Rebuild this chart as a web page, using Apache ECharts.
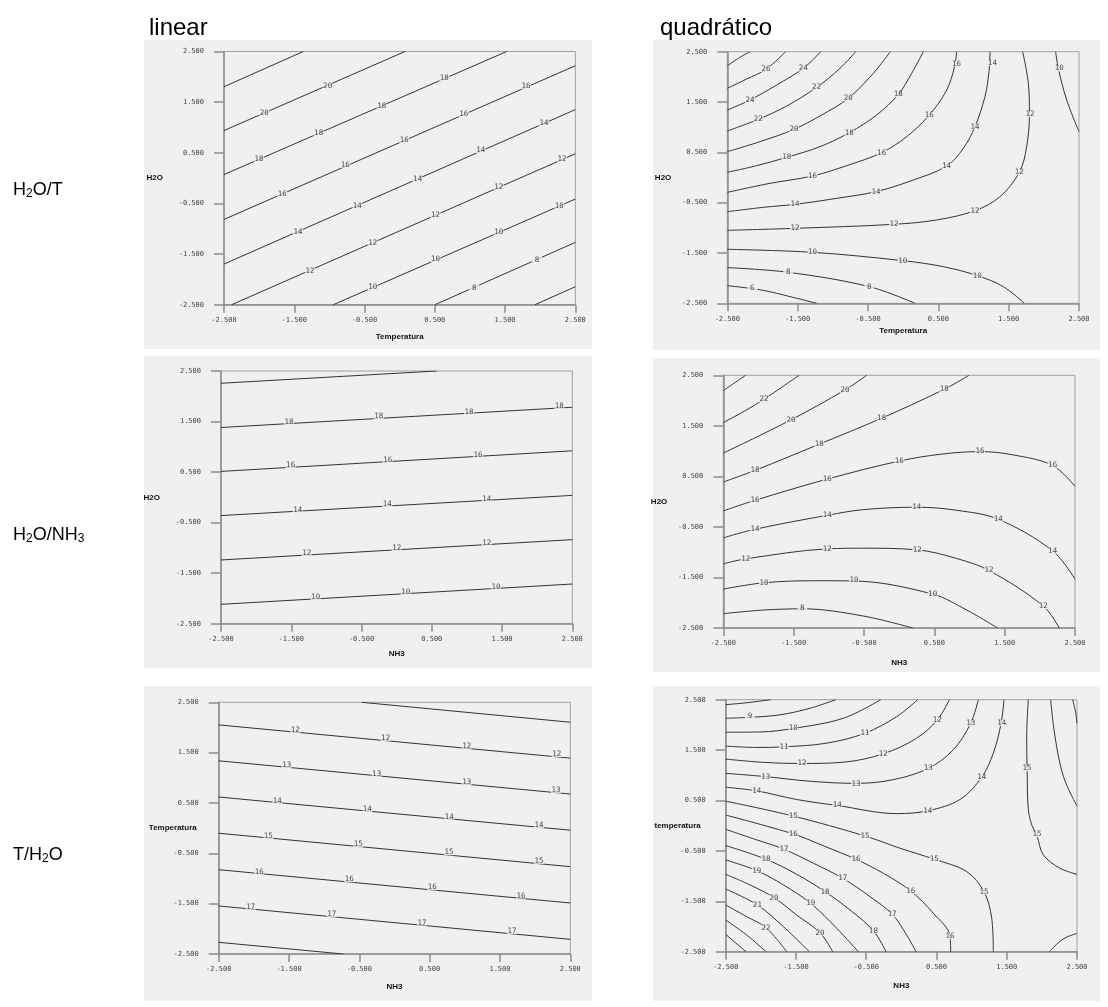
<!DOCTYPE html>
<html>
<head>
<meta charset="utf-8">
<script src="https://cdn.jsdelivr.net/npm/echarts@6/dist/echarts.min.js"></script>
<style>
  html, body { margin: 0; padding: 0; background: #fff; }
  #main { width: 1108px; height: 1007px; }
</style>
</head>
<body>
<div id="main"></div>
<script>
// axis ticks shared by all six panels
const ticks = [-2.5, -1.5, -0.5, 0.5, 1.5, 2.5];

// contour lines: [level, [[x, y], ...]]
const tlLines = [
  [22, [[-2.5, 1.805], [-1.371, 2.5]]],
  [20, [[-2.5, 0.939], [0.076, 2.5]]],
  [18, [[-2.5, 0.07], [1.523, 2.5]]],
  [16, [[-2.5, -0.816], [2.5, 2.218]]],
  [14, [[-2.5, -1.697], [2.5, 1.352]]],
  [12, [[-2.391, -2.5], [2.5, 0.48]]],
  [10, [[-0.944, -2.5], [2.5, -0.414]]],
  [8, [[0.503, -2.5], [2.5, -1.27]]],
  [6, [[1.926, -2.5], [2.5, -2.145]]]
];
const tlLabels = [
  [-1.025, 1.825, '20'], [-1.926, 1.287, '20'],
  [0.636, 1.969, '18'], [-0.256, 1.431, '18'], [-1.153, 0.887, '18'], [-2.002, 0.375, '18'],
  [1.798, 1.811, '16'], [0.911, 1.267, '16'], [0.066, 0.756, '16'], [-0.773, 0.257, '16'], [-1.67, -0.316, '16'],
  [2.054, 1.084, '14'], [1.153, 0.546, '14'], [0.256, -0.026, '14'], [-0.602, -0.546, '14'], [-1.447, -1.059, '14'],
  [2.31, 0.382, '12'], [1.409, -0.184, '12'], [0.512, -0.737, '12'], [-0.384, -1.276, '12'], [-1.276, -1.829, '12'],
  [2.272, -0.546, '10'], [1.409, -1.059, '10'], [0.512, -1.605, '10'], [-0.384, -2.151, '10'],
  [1.955, -1.618, '8'], [1.063, -2.164, '8']
];

const trLines = [
  [28, [[-2.5, 2.215], [-2.344, 2.368], [-2.178, 2.5]]],
  [26, [[-2.5, 1.772], [-2.225, 1.957], [-1.95, 2.149], [-1.671, 2.5]]],
  [24, [[-2.5, 1.341], [-2.178, 1.54], [-1.799, 1.838], [-1.419, 2.169], [-1.173, 2.5]]],
  [22, [[-2.5, 0.924], [-2.059, 1.156], [-1.656, 1.421], [-1.23, 1.791], [-0.898, 2.169], [-0.675, 2.5]]],
  [20, [[-2.5, 0.513], [-2.036, 0.712], [-1.552, 0.957], [-1.159, 1.242], [-0.78, 1.573], [-0.424, 2.07], [-0.183, 2.5]]],
  [18, [[-2.5, 0.103], [-2.083, 0.235], [-1.656, 0.401], [-1.182, 0.613], [-0.765, 0.891], [-0.377, 1.242], [-0.069, 1.652], [0.121, 2.07], [0.287, 2.5]]],
  [16, [[-2.5, -0.295], [-1.893, -0.116], [-1.287, 0.03], [-0.803, 0.235], [-0.306, 0.493], [0.05, 0.811], [0.372, 1.242], [0.619, 1.738], [0.73, 2.2], [0.761, 2.5]]],
  [14, [[-2.5, -0.679], [-1.988, -0.593], [-1.538, -0.533], [-0.945, -0.414], [-0.386, -0.281], [0.145, -0.05], [0.618, 0.228], [0.855, 0.579], [1.021, 1.01], [1.163, 1.606], [1.22, 2.1], [1.235, 2.5]]],
  [12, [[-2.5, -1.05], [-1.538, -1.01], [-0.13, -0.93], [0.476, -0.844], [1.021, -0.659], [1.377, -0.381], [1.652, 0.105], [1.756, 0.613], [1.795, 1.262], [1.78, 1.871], [1.699, 2.5]]],
  [10, [[2.168, 2.5], [2.206, 2.169], [2.325, 1.54], [2.5, 0.911]]],
  [10, [[-2.5, -1.427], [-1.287, -1.487], [-0.007, -1.652], [0.571, -1.772], [1.055, -1.95], [1.424, -2.169], [1.723, -2.5]]],
  [8, [[-2.5, -1.791], [-1.633, -1.884], [-0.481, -2.169], [0.168, -2.5]]],
  [6, [[-2.5, -2.149], [-2.0, -2.24], [-1.6, -2.37], [-1.23, -2.5]]]
];
const trLabels = [
  [-1.95, 2.149, '26'],
  [-1.419, 2.169, '24'], [-2.178, 1.54, '24'],
  [-1.23, 1.791, '22'], [-2.059, 1.156, '22'],
  [-0.78, 1.573, '20'], [-1.552, 0.957, '20'],
  [-0.069, 1.652, '18'], [-0.765, 0.891, '18'], [-1.656, 0.401, '18'],
  [0.76, 2.26, '16'], [0.372, 1.242, '16'], [-0.306, 0.493, '16'], [-1.287, 0.03, '16'],
  [1.27, 2.28, '14'], [1.021, 1.01, '14'], [0.618, 0.228, '14'], [-0.386, -0.281, '14'], [-1.538, -0.533, '14'],
  [1.803, 1.262, '12'], [1.652, 0.105, '12'], [1.021, -0.659, '12'], [-0.13, -0.93, '12'], [-1.538, -1.01, '12'],
  [2.22, 2.169, '10'], [-1.287, -1.487, '10'], [-0.007, -1.652, '10'], [1.055, -1.95, '10'],
  [-1.633, -1.884, '8'], [-0.481, -2.169, '8'],
  [-2.145, -2.19, '6']
];

const mlLines = [
  [20, [[-2.5, 2.257], [0.569, 2.5]]],
  [18, [[-2.5, 1.382], [2.5, 1.783]]],
  [16, [[-2.5, 0.513], [2.5, 0.921]]],
  [14, [[-2.5, -0.361], [2.5, 0.039]]],
  [12, [[-2.5, -1.239], [2.5, -0.837]]],
  [10, [[-2.5, -2.117], [2.5, -1.715]]]
];
const mlLabels = [
  [-1.532, 1.493, '18'], [-0.256, 1.605, '18'], [1.029, 1.697, '18'], [2.315, 1.809, '18'],
  [-1.509, 0.632, '16'], [-0.128, 0.743, '16'], [1.158, 0.842, '16'],
  [-1.409, -0.243, '14'], [-0.133, -0.137, '14'], [1.281, -0.026, '14'],
  [-1.281, -1.107, '12'], [0.0, -1.008, '12'], [1.281, -0.909, '12'],
  [-1.153, -1.979, '10'], [0.128, -1.873, '10'], [1.414, -1.767, '10']
];

const mrLines = [
  [24, [[-2.5, 2.197], [-2.35, 2.34], [-2.182, 2.5]]],
  [22, [[-2.5, 1.566], [-2.2, 1.79], [-1.922, 2.026], [-1.424, 2.5]]],
  [20, [[-2.5, 0.961], [-1.538, 1.618], [-0.77, 2.211], [-0.462, 2.5]]],
  [18, [[-2.5, 0.388], [-2.05, 0.618], [-1.135, 1.138], [-0.249, 1.651], [0.642, 2.224], [0.993, 2.5]]],
  [16, [[-2.5, -0.184], [-2.05, 0.026], [-1.021, 0.447], [0.002, 0.803], [0.6, 0.94], [1.149, 0.99], [1.6, 0.93], [2.182, 0.717], [2.5, 0.303]]],
  [14, [[-2.5, -0.717], [-2.05, -0.546], [-1.021, -0.27], [-0.509, -0.158], [0.249, -0.11], [0.818, -0.171], [1.41, -0.349], [2.182, -0.974], [2.5, -1.533]]],
  [12, [[-2.5, -1.23], [-2.182, -1.132], [-1.021, -0.934], [-0.509, -0.921], [0.258, -0.954], [0.818, -1.125], [1.277, -1.362], [2.05, -2.066], [2.277, -2.5]]],
  [10, [[-2.5, -1.73], [-1.922, -1.605], [-1.22, -1.565], [-0.642, -1.57], [0.476, -1.829], [0.96, -2.145], [1.4, -2.5]]],
  [8, [[-2.5, -2.217], [-1.931, -2.145], [-1.377, -2.12], [-0.509, -2.263], [0.192, -2.5]]]
];
const mrLabels = [
  [-1.922, 2.026, '22'],
  [-0.77, 2.211, '20'], [-1.538, 1.618, '20'],
  [0.642, 2.224, '18'], [-0.249, 1.651, '18'], [-1.135, 1.138, '18'], [-2.05, 0.618, '18'],
  [1.149, 1.0, '16'], [2.182, 0.717, '16'], [0.002, 0.803, '16'], [-1.021, 0.447, '16'], [-2.05, 0.026, '16'],
  [-2.05, -0.546, '14'], [-1.021, -0.27, '14'], [0.249, -0.105, '14'], [1.41, -0.349, '14'], [2.182, -0.974, '14'],
  [-2.182, -1.132, '12'], [-1.021, -0.934, '12'], [0.258, -0.954, '12'], [1.277, -1.362, '12'], [2.05, -2.066, '12'],
  [-1.922, -1.605, '10'], [-0.642, -1.559, '10'], [0.476, -1.829, '10'],
  [-1.377, -2.112, '8']
];

const blLines = [
  [11, [[-0.467, 2.5], [2.5, 2.104]]],
  [12, [[-2.5, 2.051], [2.5, 1.391]]],
  [13, [[-2.5, 1.338], [2.5, 0.678]]],
  [14, [[-2.5, 0.619], [2.5, -0.041]]],
  [15, [[-2.5, -0.101], [2.5, -0.765]]],
  [16, [[-2.5, -0.825], [2.5, -1.487]]],
  [17, [[-2.5, -1.546], [2.5, -2.209]]],
  [18, [[-2.5, -2.268], [-0.727, -2.5]]]
];
const blLabels = [
  [-1.41, 1.952, '12'], [-0.126, 1.787, '12'], [1.026, 1.635, '12'], [2.306, 1.47, '12'],
  [-1.533, 1.246, '13'], [-0.254, 1.081, '13'], [1.026, 0.909, '13'], [2.296, 0.751, '13'],
  [-1.666, 0.546, '14'], [-0.386, 0.381, '14'], [0.78, 0.229, '14'], [2.054, 0.058, '14'],
  [-1.794, -0.16, '15'], [-0.514, -0.321, '15'], [0.775, -0.48, '15'], [2.054, -0.652, '15'],
  [-1.922, -0.864, '16'], [-0.642, -1.017, '16'], [0.538, -1.175, '16'], [1.799, -1.341, '16'],
  [-2.045, -1.56, '17'], [-0.893, -1.712, '17'], [0.391, -1.877, '17'], [1.671, -2.043, '17']
];

const brLines = [
  [8, [[-2.5, 2.401], [-2.2, 2.44], [-1.86, 2.5]]],
  [9, [[-2.5, 2.132], [-2.154, 2.15], [-1.727, 2.2], [-1.3, 2.33], [-0.935, 2.5]]],
  [10, [[-2.5, 1.855], [-2.011, 1.86], [-1.537, 1.93], [-0.825, 2.132], [-0.294, 2.5]]],
  [11, [[-2.5, 1.579], [-2.059, 1.553], [-1.67, 1.565], [-1.063, 1.638], [-0.517, 1.836], [-0.066, 2.164], [0.232, 2.5]]],
  [12, [[-2.5, 1.322], [-1.964, 1.257], [-1.414, 1.235], [-0.825, 1.26], [-0.256, 1.428], [0.218, 1.737], [0.512, 2.099], [0.683, 2.5]]],
  [13, [[-2.5, 1.039], [-1.931, 0.974], [-1.3, 0.882], [-0.645, 0.84], [-0.114, 0.914], [0.384, 1.138], [0.74, 1.507], [0.987, 2.033], [1.096, 2.5]]],
  [14, [[-2.5, 0.763], [-2.059, 0.691], [-1.49, 0.52], [-0.911, 0.401], [-0.066, 0.24], [0.375, 0.296], [0.835, 0.52], [1.143, 0.961], [1.309, 1.441], [1.42, 2.033], [1.461, 2.5]]],
  [15, [[1.807, 2.5], [1.784, 1.77], [1.79, 1.138], [1.807, 0.322], [1.86, 0.0], [1.93, -0.2], [2.021, -0.579], [2.258, -0.844], [2.5, -0.964]]],
  [16, [[2.125, 2.5], [2.187, 1.77], [2.306, 0.98], [2.5, 0.388]]],
  [17, [[2.438, 2.5], [2.48, 2.25], [2.5, 2.033]]],
  [16, [[2.106, -2.5], [2.3, -2.25], [2.5, -2.136]]],
  [15, [[-2.5, 0.487], [-1.537, 0.191], [-0.517, -0.204], [-0.019, -0.447], [0.47, -0.666], [0.93, -0.911], [1.176, -1.308], [1.286, -1.838], [1.309, -2.5]]],
  [16, [[-2.5, 0.211], [-1.537, -0.164], [-1.09, -0.41], [-0.645, -0.666], [-0.256, -0.944], [0.133, -1.295], [0.455, -1.738], [0.693, -2.189], [0.702, -2.5]]],
  [17, [[-2.5, -0.072], [-2.059, -0.281], [-1.67, -0.467], [-1.252, -0.745], [-0.835, -1.043], [-0.446, -1.407], [-0.128, -1.758], [0.076, -2.169], [0.209, -2.5]]],
  [18, [[-2.5, -0.394], [-1.926, -0.666], [-1.49, -0.964], [-1.086, -1.308], [-0.731, -1.672], [-0.398, -2.083], [-0.218, -2.5]]],
  [19, [[-2.5, -0.679], [-2.059, -0.891], [-1.679, -1.175], [-1.29, -1.54], [-0.92, -2.036], [-0.612, -2.5]]],
  [20, [[-2.5, -0.964], [-2.154, -1.175], [-1.812, -1.427], [-1.49, -1.772], [-1.158, -2.123], [-0.977, -2.5]]],
  [21, [[-2.5, -1.255], [-2.049, -1.573], [-1.679, -2.003], [-1.309, -2.5]]],
  [22, [[-2.5, -1.573], [-2.201, -1.805], [-1.926, -2.023], [-1.632, -2.5]]],
  [23, [[-2.5, -1.871], [-2.201, -2.169], [-1.926, -2.5]]],
  [24, [[-2.5, -2.156], [-2.211, -2.5]]]
];
const brLabels = [
  [-2.154, 2.17, '9'],
  [-1.537, 1.935, '10'],
  [-1.67, 1.57, '11'], [-0.517, 1.836, '11'],
  [-1.414, 1.236, '12'], [-0.256, 1.428, '12'], [0.512, 2.099, '12'],
  [-1.931, 0.974, '13'], [-0.645, 0.835, '13'], [0.384, 1.138, '13'], [0.987, 2.033, '13'],
  [-2.059, 0.691, '14'], [-0.911, 0.401, '14'], [0.375, 0.296, '14'], [1.143, 0.961, '14'], [1.43, 2.033, '14'],
  [1.79, 1.138, '15'], [1.93, -0.17, '15'],
  [-1.537, 0.191, '15'], [-0.517, -0.204, '15'], [0.47, -0.666, '15'], [1.176, -1.308, '15'],
  [-1.537, -0.164, '16'], [-0.645, -0.666, '16'], [0.133, -1.295, '16'], [0.693, -2.189, '16'],
  [-1.67, -0.467, '17'], [-0.835, -1.043, '17'], [-0.128, -1.758, '17'],
  [-1.926, -0.666, '18'], [-1.086, -1.308, '18'], [-0.398, -2.083, '18'],
  [-2.059, -0.891, '19'], [-1.29, -1.54, '19'],
  [-1.812, -1.427, '20'], [-1.158, -2.123, '20'],
  [-2.049, -1.573, '21'],
  [-1.926, -2.023, '22']
];

const BG = '#f0f0f0';
const MONO = 'DejaVu Sans Mono';

const panels = [
  { grid: { left: 224, top: 51.5, width: 351.3, height: 253.2 }, box: [144, 40, 448, 309], xName: 'Temperatura', yName: 'H2O', xGap: 28, yGap: 61, lines: tlLines, labels: tlLabels, smooth: false },
  { grid: { left: 727.3, top: 51.7, width: 351.7, height: 251.6 }, box: [653, 40, 447, 310], xName: 'Temperatura', yName: 'H2O', xGap: 23, yGap: 56, lines: trLines, labels: trLabels, smooth: true },
  { grid: { left: 221, top: 371, width: 351.3, height: 252.7 }, box: [144, 356, 448, 312], xName: 'NH3', yName: 'H2O', xGap: 26, yGap: 61, lines: mlLines, labels: mlLabels, smooth: false },
  { grid: { left: 723.3, top: 375.3, width: 351.7, height: 252.7 }, box: [653, 358, 447, 314], xName: 'NH3', yName: 'H2O', xGap: 31, yGap: 56, lines: mrLines, labels: mrLabels, smooth: true },
  { grid: { left: 218.7, top: 702.3, width: 351.6, height: 251.7 }, box: [144, 686, 448, 315], xName: 'NH3', yName: 'Temperatura', xGap: 29, yGap: 22, lines: blLines, labels: blLabels, smooth: false },
  { grid: { left: 725.7, top: 699.7, width: 351.3, height: 252 }, box: [653, 686, 447, 315], xName: 'NH3', yName: 'temperatura', xGap: 30, yGap: 25, lines: brLines, labels: brLabels, smooth: true }
];

const axisCommon = {
  type: 'value', min: -2.5, max: 2.5,
  axisLine: { show: true, onZero: false, lineStyle: { color: '#8c8c8c', width: 1.5 } },
  splitLine: { show: false },
  axisLabel: {
    customValues: ticks, formatter: v => v.toFixed(3),
    fontFamily: MONO, fontSize: 7, color: '#444'
  },
  nameTextStyle: { fontFamily: 'Liberation Sans', fontWeight: 'bold', fontSize: 8, color: '#111' },
  nameLocation: 'middle',
  nameMoveOverlap: false
};

const grids = [], xAxes = [], yAxes = [], series = [], boxes = [];
panels.forEach((p, i) => {
  grids.push(Object.assign({ show: true, backgroundColor: BG, borderColor: '#a0a0a0', borderWidth: 1 }, p.grid));
  boxes.push({ type: 'rect', shape: { x: p.box[0], y: p.box[1], width: p.box[2], height: p.box[3] }, style: { fill: BG }, z: -10 });
  xAxes.push(Object.assign({}, axisCommon, {
    gridIndex: i, name: p.xName, nameGap: p.xGap,
    axisTick: { customValues: ticks, length: 8, lineStyle: { color: '#8c8c8c', width: 1.5 } },
    axisLabel: Object.assign({}, axisCommon.axisLabel, { margin: 12 })
  }));
  yAxes.push(Object.assign({}, axisCommon, {
    gridIndex: i, name: p.yName, nameGap: p.yGap, nameRotate: 0,
    nameTextStyle: Object.assign({}, axisCommon.nameTextStyle, { padding: [0, 0, 10, 0] }),
    axisTick: { customValues: ticks, length: 10, lineStyle: { color: '#8c8c8c', width: 1.5 } },
    axisLabel: Object.assign({}, axisCommon.axisLabel, { margin: 20 })
  }));
  p.lines.forEach(([level, pts]) => {
    series.push({
      type: 'line', name: String(level), xAxisIndex: i, yAxisIndex: i,
      data: pts, smooth: p.smooth ? 0.35 : false, symbol: 'none',
      lineStyle: { color: '#333', width: 1 }, silent: true, z: 2
    });
  });
  series.push({
    type: 'scatter', xAxisIndex: i, yAxisIndex: i, data: p.labels,
    symbol: 'rect', symbolSize: [10, 6], itemStyle: { color: BG },
    label: { show: true, position: 'inside', formatter: d => d.value[2], fontFamily: MONO, fontSize: 7.5, color: '#222' },
    silent: true, z: 3
  });
});

const rowText = { fontFamily: 'Liberation Sans', fontSize: 18, fontWeight: 'normal', color: '#000',
  rich: { a: { fontSize: 18, fontFamily: 'Liberation Sans', color: '#000' },
          s: { fontSize: 12, fontFamily: 'Liberation Sans', color: '#000', verticalAlign: 'bottom', padding: [8, 0, 0, 0] } } };

const chart = echarts.init(document.getElementById('main'));
chart.setOption({
  animation: false,
  title: [
    { text: 'linear', left: 144, top: 11, textStyle: { fontFamily: 'Liberation Sans', fontSize: 24, fontWeight: 'normal', color: '#000' } },
    { text: 'quadrático', left: 655, top: 11, textStyle: { fontFamily: 'Liberation Sans', fontSize: 24, fontWeight: 'normal', color: '#000' } },
    { text: '{a|H}{s|2}{a|O/T}', left: 8, top: 175, textStyle: rowText },
    { text: '{a|H}{s|2}{a|O/NH}{s|3}', left: 8, top: 520, textStyle: rowText },
    { text: '{a|T/H}{s|2}{a|O}', left: 8, top: 840, textStyle: rowText }
  ],
  graphic: boxes,
  grid: grids,
  xAxis: xAxes,
  yAxis: yAxes,
  series: series
});
</script>
</body>
</html>
